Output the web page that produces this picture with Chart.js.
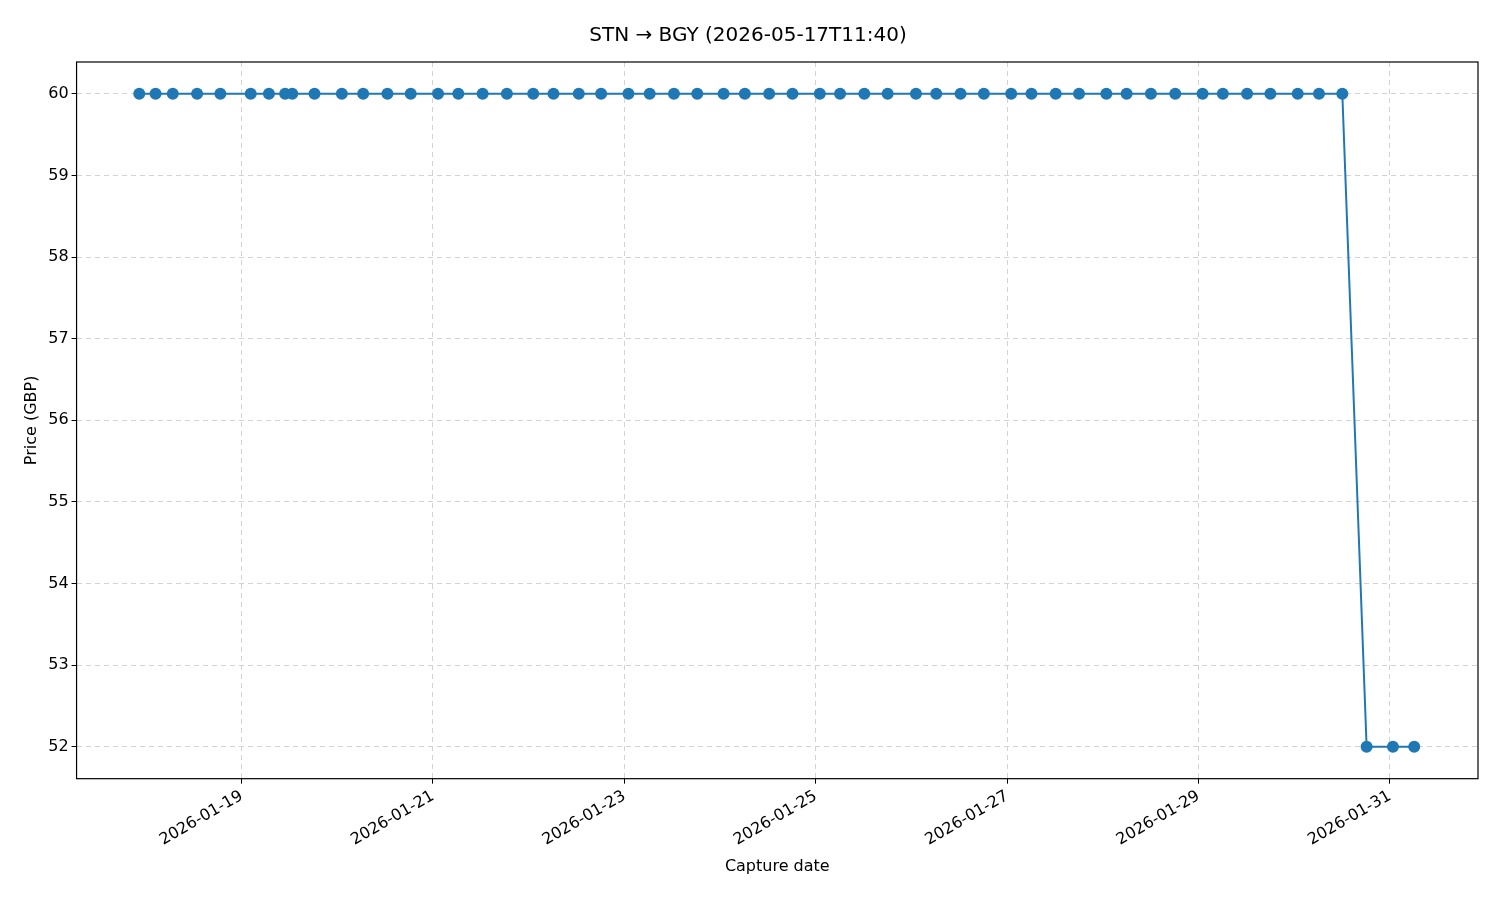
<!DOCTYPE html>
<html><head><meta charset="utf-8">
<script src="https://cdn.jsdelivr.net/npm/chart.js@4/dist/chart.umd.min.js"></script>
<style>body{margin:0;background:#fff}#wrap{width:1500px;height:900px}</style>
</head><body><div id="wrap"><canvas id="c"></canvas></div>
<script>
/* data */
const captureTimes = [
  "2026-01-17T22:20","2026-01-18T02:25","2026-01-18T06:44","2026-01-18T12:50","2026-01-18T18:40",
  "2026-01-19T02:17","2026-01-19T06:51","2026-01-19T10:55","2026-01-19T12:42","2026-01-19T18:17",
  "2026-01-20T01:08","2026-01-20T06:29","2026-01-20T12:34","2026-01-20T18:25",
  "2026-01-21T01:16","2026-01-21T06:21","2026-01-21T12:27","2026-01-21T18:32",
  "2026-01-22T01:08","2026-01-22T06:13","2026-01-22T12:34","2026-01-22T18:10",
  "2026-01-23T01:01","2026-01-23T06:21","2026-01-23T12:26","2026-01-23T18:17",
  "2026-01-24T00:53","2026-01-24T06:13","2026-01-24T12:19","2026-01-24T18:10",
  "2026-01-25T01:01","2026-01-25T06:06","2026-01-25T12:11","2026-01-25T18:02",
  "2026-01-26T01:08","2026-01-26T06:13","2026-01-26T12:19","2026-01-26T18:10",
  "2026-01-27T01:01","2026-01-27T06:06","2026-01-27T12:11","2026-01-27T18:02",
  "2026-01-28T00:53","2026-01-28T05:58","2026-01-28T12:04","2026-01-28T18:10",
  "2026-01-29T01:01","2026-01-29T06:06","2026-01-29T12:11","2026-01-29T18:02",
  "2026-01-30T00:53","2026-01-30T06:13","2026-01-30T12:04","2026-01-30T18:10",
  "2026-01-31T00:46","2026-01-31T06:06"
];
const prices = [
  60,60,60,60,60, 60,60,60,60,60, 60,60,60,60, 60,60,60,60, 60,60,60,60,
  60,60,60,60, 60,60,60,60, 60,60,60,60, 60,60,60,60, 60,60,60,60,
  60,60,60,60, 60,60,60,60, 60,60,60, 52,52,52
];
const tickDates = ["2026-01-19","2026-01-21","2026-01-23","2026-01-25","2026-01-27","2026-01-29","2026-01-31"];
const yTicks = [52,53,54,55,56,57,58,59,60];

const toMs = s => Date.parse(s.length > 10 ? s + ":00Z" : s + "T00:00:00Z");
const points = captureTimes.map((t, i) => ({ x: toMs(t), y: prices[i] }));
const FONT = "'DejaVu Sans', sans-serif";
const BLUE = "#1f77b4";
const grid = { color: "#d3d3d3", lineWidth: 1, tickColor: "#000", tickLength: 5, drawTicks: true };
const border = { display: false, dash: [5, 4] };

new Chart(document.getElementById("c"), {
  type: "line",
  data: { datasets: [{ data: points, borderColor: BLUE, backgroundColor: BLUE, borderWidth: 2,
    pointRadius: 6, pointHoverRadius: 6, pointBorderWidth: 0, tension: 0 }] },
  options: {
    responsive: true, maintainAspectRatio: false, animation: false,
    layout: { padding: { left: 18, right: 22, top: 10, bottom: 20 } },
    plugins: {
      legend: { display: false }, tooltip: { enabled: false },
      title: { display: true, text: "STN → BGY (2026-05-17T11:40)", color: "#000",
        font: { family: FONT, size: 20, weight: "normal" }, padding: { top: 14, bottom: 14 } }
    },
    scales: {
      x: {
        type: "linear", min: toMs("2026-01-17T06:36"), max: toMs("2026-01-31T22:06"),
        afterBuildTicks: ax => { ax.ticks = tickDates.map(d => ({ value: toMs(d) })); },
        ticks: { color: "#000", font: { family: FONT, size: 16 }, minRotation: 30, maxRotation: 30,
          callback: v => new Date(v).toISOString().slice(0, 10) },
        grid: { ...grid }, border: { ...border },
        title: { display: true, text: "Capture date", color: "#000", font: { family: FONT, size: 16 } }
      },
      y: {
        min: 51.61, max: 60.39,
        afterBuildTicks: ax => { ax.ticks = yTicks.map(v => ({ value: v })); },
        ticks: { color: "#000", font: { family: FONT, size: 16 } },
        grid: { ...grid }, border: { ...border },
        title: { display: true, text: "Price (GBP)", color: "#000", font: { family: FONT, size: 16 } }
      }
    }
  },
  plugins: [{
    id: "frame",
    afterDraw(ch) {
      const { ctx, chartArea: a } = ch;
      ctx.save(); ctx.strokeStyle = "#000"; ctx.lineWidth = 1.2;
      ctx.strokeRect(a.left, a.top, a.right - a.left, a.bottom - a.top); ctx.restore();
    }
  }]
});
</script></body></html>
